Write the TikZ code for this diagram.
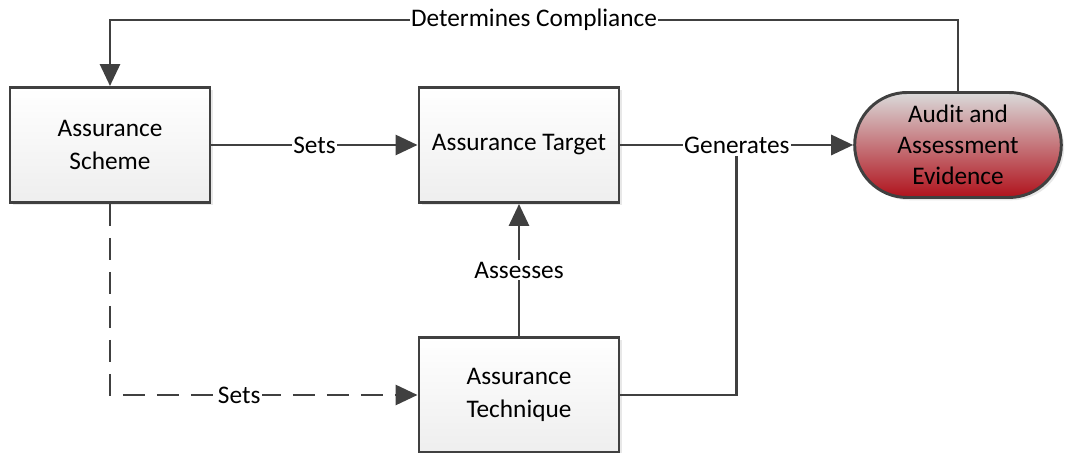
\documentclass[tikz,border=0pt]{standalone}
\usepackage{fontspec}
\setmainfont{Carlito}
\usetikzlibrary{arrows.meta,shapes.misc,shadows}
\definecolor{linegray}{HTML}{404040}
\definecolor{boxgray}{HTML}{EEEEEE}
\definecolor{evidencered}{HTML}{B0121C}
\definecolor{evidencegray}{HTML}{DADADA}

\begin{document}
\begin{tikzpicture}[line width=2.1pt, color=linegray, >={Triangle[length=0.55cm,width=0.5cm]},
    main node/.style={rectangle,draw=linegray,text=black,top color=white,bottom color=boxgray,minimum width=5cm,minimum height=2.875cm,align=center,font=\fontsize{18}{23}\selectfont,drop shadow={shadow xshift=0.07cm,shadow yshift=-0.07cm,opacity=0.18}},
    end node/.style={rounded rectangle,draw=linegray,text=black,top color=evidencegray,bottom color=evidencered,minimum width=5.4cm,minimum height=2.625cm,align=center,font=\fontsize{18}{22}\selectfont,drop shadow={shadow xshift=0.07cm,shadow yshift=-0.07cm,opacity=0.18}},
    label node/.style={fill=white,text=black,inner sep=1pt,font=\fontsize{18}{22}\selectfont}]
    \useasboundingbox (0,0) rectangle (26.7,11.325);

    \node[main node] at (2.75, 7.7) (scheme) {Assurance\\Scheme};
    \node[main node] at (12.975, 7.7) (target) {Assurance Target};
    \node[main node] at (12.975, 1.45) (technique) {Assurance\\Technique};
    \node[end node] at (23.95, 7.7) (evidence) {Audit and\\Assessment\\Evidence};
    \coordinate (topleft) at (2.75, 10.825);

    \draw[->] (scheme) -- node[label node] {Sets} (target);
    \draw[->] (target) -- node[label node] (gen) {Generates} (evidence);
    \draw[->] (technique) -- node[label node] {Assesses} (target);
    \draw (technique.east) -| (gen.south);
    \draw[->,dash pattern=on 0.55cm off 0.3cm] (scheme.south) |- node[label node,pos=0.71] {Sets} (technique.west);
    \draw[->] (evidence.north) |- node[label node,pos=0.75] {Determines Compliance} (topleft) -- (scheme.north);
\end{tikzpicture}
\end{document}
